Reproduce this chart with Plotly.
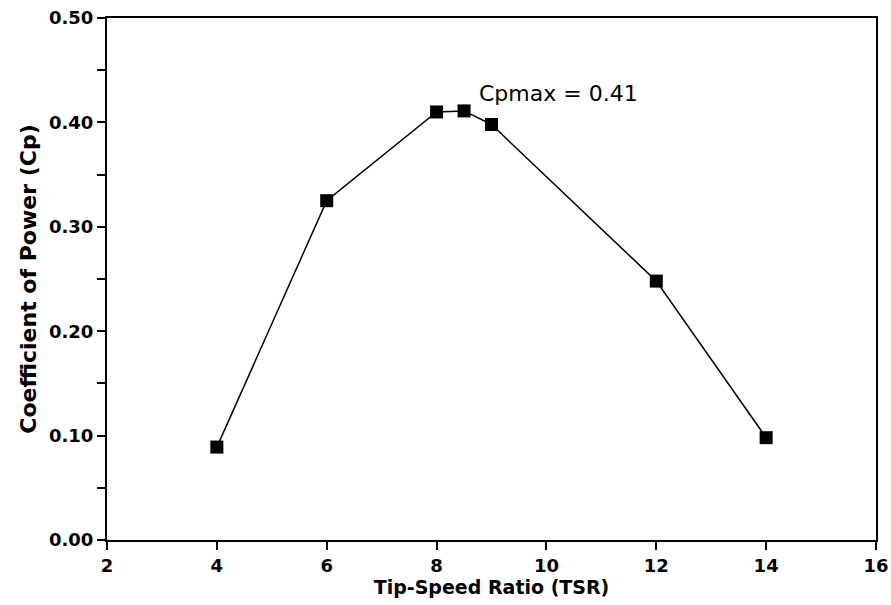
import plotly.graph_objects as go

tsr = [4, 6, 8, 8.5, 9, 12, 14]
cp = [0.089, 0.325, 0.410, 0.411, 0.398, 0.248, 0.098]
x_ticks = [2, 4, 6, 8, 10, 12, 14, 16]
y_ticks = [0.0, 0.1, 0.2, 0.3, 0.4, 0.5]
y_labels = ["0.00", "0.10", "0.20", "0.30", "0.40", "0.50"]

font_fam = "DejaVu Sans, Verdana, sans-serif"

fig = go.Figure()
fig.add_trace(go.Scatter(
    x=tsr, y=cp, mode="lines+markers",
    line=dict(color="black", width=1.5),
    marker=dict(symbol="square", size=13, color="black"),
    showlegend=False,
))
fig.add_annotation(x=8.73, y=0.428, text="Cpmax = 0.41", showarrow=False,
                   xanchor="left", yanchor="middle",
                   font=dict(family=font_fam, size=22, color="black"))

fig.update_xaxes(
    range=[2, 16], tickvals=x_ticks, ticktext=[str(v) for v in x_ticks],
    ticks="outside", ticklen=8, tickwidth=2, tickcolor="black",
    showline=True, linecolor="black", linewidth=2, mirror=True,
    showgrid=False, zeroline=False, automargin=False,
    tickfont=dict(family=font_fam, size=18, color="black", weight="bold"),
    title=dict(text="Tip-Speed Ratio (TSR)", standoff=2,
               font=dict(family=font_fam, size=19, color="black", weight="bold")),
)
fig.update_yaxes(
    range=[0, 0.5], tickvals=y_ticks, ticktext=y_labels,
    ticks="outside", ticklen=8, tickwidth=2, tickcolor="black",
    minor=dict(dtick=0.05, ticks="outside", ticklen=8, tickwidth=2, tickcolor="black", showgrid=False),
    showline=True, linecolor="black", linewidth=2, mirror=True,
    showgrid=False, zeroline=False, automargin=False,
    tickfont=dict(family=font_fam, size=18, color="black", weight="bold"),
    title=dict(text="Coefficient of Power (Cp)", standoff=6,
               font=dict(family=font_fam, size=22, color="black", weight="bold")),
)
fig.update_layout(
    width=891, height=605,
    margin=dict(l=107, r=15, t=18, b=65),
    plot_bgcolor="white", paper_bgcolor="white",
)
fig.write_html("out.html", config={"displayModeBar": False},
               post_script="document.body.style.margin='0';")
